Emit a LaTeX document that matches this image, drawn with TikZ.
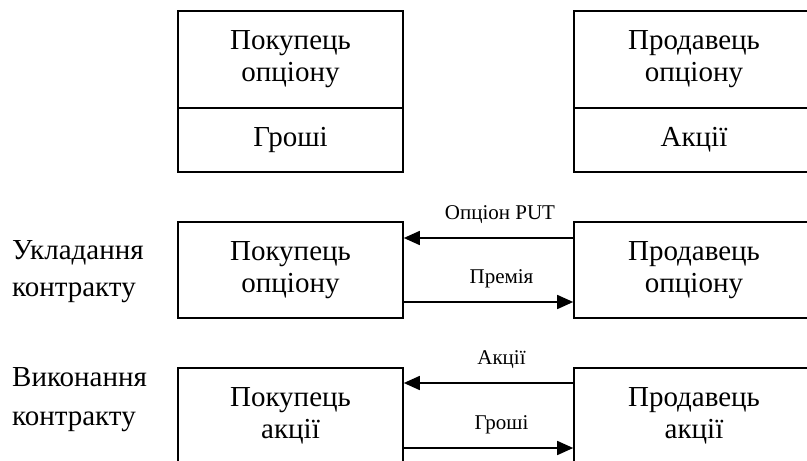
\documentclass[tikz,border=0pt]{standalone}
\usepackage{fontspec}
\setmainfont{Liberation Serif}
\usetikzlibrary{arrows.meta}
\begin{document}
\begin{tikzpicture}[x=1pt,y=-1pt,
  box/.style={draw, line width=1.6pt, inner sep=0pt, align=center,
              font=\fontsize{29}{32}\selectfont},
  side/.style={inner sep=0pt, align=left, anchor=north west,
               font=\fontsize{29}{37}\selectfont},
  tag/.style={inner sep=0pt, anchor=base, font=\fontsize{21}{24}\selectfont},
  flow/.style={line width=1.6pt, -{Triangle[length=16pt,width=14pt]}}]
\useasboundingbox (0,0) rectangle (807,461);

% participants and their assets
\node[box, minimum width=225pt, minimum height=97pt] (buyerA)  at (290.5,59.5) {Покупець\\опціону};
\node[box, minimum width=225pt, minimum height=64pt] (money)   at (290.5,140)  {Гроші};
\node[box, minimum width=240pt, minimum height=97pt] (sellerA) at (694,59.5)   {Продавець\\опціону};
\node[box, minimum width=240pt, minimum height=64pt] (shares)  at (694,140)    {Акції};

% concluding the contract
\node[side] (conclude) at (12,240) {Укладання\\контракту};
\node[box, minimum width=225pt, minimum height=96pt] (buyerB)  at (290.5,270) {Покупець\\опціону};
\node[box, minimum width=240pt, minimum height=96pt] (sellerB) at (694,270)   {Продавець\\опціону};
\draw[flow] ([yshift=32pt]sellerB.west) -- node[tag, midway, xshift=11.5pt, yshift=19pt] {Опціон PUT} ([yshift=32pt]buyerB.east);
\draw[flow] ([yshift=-32pt]buyerB.east) -- node[tag, midway, xshift=13pt, yshift=19pt] {Премія} ([yshift=-32pt]sellerB.west);

% executing the contract
\node[side] (execute) at (12,367) {Виконання\\[2pt]контракту};
\node[box, minimum width=225pt, minimum height=96pt] (buyerC)  at (290.5,416) {Покупець\\акції};
\node[box, minimum width=240pt, minimum height=96pt] (sellerC) at (694,416)   {Продавець\\акції};
\draw[flow] ([yshift=33pt]sellerC.west) -- node[tag, midway, xshift=13pt, yshift=19pt] {Акції} ([yshift=33pt]buyerC.east);
\draw[flow] ([yshift=-32pt]buyerC.east) -- node[tag, midway, xshift=13pt, yshift=19pt] {Гроші} ([yshift=-32pt]sellerC.west);
\end{tikzpicture}
\end{document}
